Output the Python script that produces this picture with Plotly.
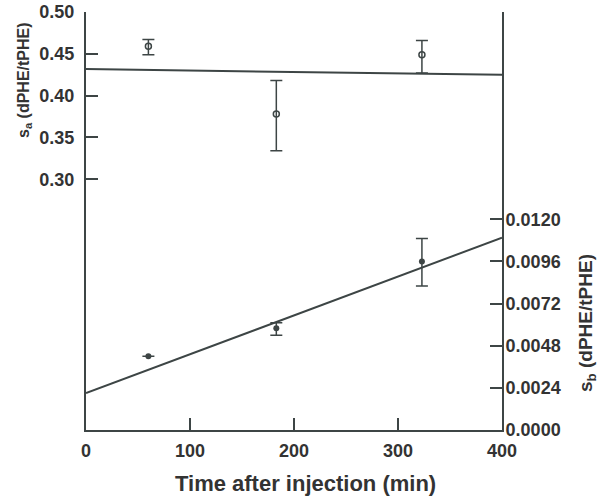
import plotly.graph_objects as go

# ---- data ----
time_min = [60, 183, 323]

sa_values = [0.459, 0.378, 0.449]
sa_err_plus = [0.008, 0.040, 0.017]
sa_err_minus = [0.010, 0.044, 0.022]

sb_values = [0.0042, 0.0058, 0.0096]
sb_err_plus = [None, 0.0003, 0.0013]   # first point shows no error bar
sb_err_minus = [None, 0.0004, 0.0014]

fit_time = [0, 400]
sa_fit = [0.4318, 0.4248]
sb_fit = [0.0021, 0.01095]

x_ticks = [0, 100, 200, 300, 400]
sa_ticks = [0.30, 0.35, 0.40, 0.45, 0.50]
sb_ticks = [0.0000, 0.0024, 0.0048, 0.0072, 0.0096, 0.0120]

INK = "#3d4545"
TXT = "#333333"
FONT = "Liberation Sans, Arial, sans-serif"

fig = go.Figure()

# s_a fit line
fig.add_trace(go.Scatter(x=fit_time, y=sa_fit, mode="lines",
                         line=dict(color=INK, width=2), showlegend=False, yaxis="y"))
# s_a points (open circles)
fig.add_trace(go.Scatter(
    x=time_min, y=sa_values, mode="markers", yaxis="y", showlegend=False,
    marker=dict(symbol="circle-open", size=6, color=INK, line=dict(width=1.5, color=INK)),
    error_y=dict(type="data", symmetric=False, array=sa_err_plus, arrayminus=sa_err_minus,
                 color=INK, thickness=1.5, width=6)))

# s_b fit line
fig.add_trace(go.Scatter(x=fit_time, y=sb_fit, mode="lines", yaxis="y2",
                         line=dict(color=INK, width=2), showlegend=False))
# s_b points (filled circles)
fig.add_trace(go.Scatter(
    x=time_min, y=sb_values, mode="markers", yaxis="y2", showlegend=False,
    marker=dict(symbol="circle", size=6, color=INK),
    error_y=dict(type="data", symmetric=False, array=sb_err_plus, arrayminus=sb_err_minus,
                 color=INK, thickness=1.5, width=6)))

tickfont = dict(family=FONT, size=18, color=TXT, weight="bold")

fig.update_layout(
    template="none",
    width=600, height=496,
    margin=dict(l=86, r=98, t=12, b=66, autoexpand=False),
    paper_bgcolor="white", plot_bgcolor="white",
    xaxis=dict(range=[0, 400], tickvals=x_ticks, ticks="inside", ticklen=12,
               tickwidth=2, tickcolor=INK, showline=True, linewidth=2, linecolor=INK,
               showgrid=False, zeroline=False, tickfont=tickfont, ticklabelstandoff=3,
               automargin=False, ticklabeloverflow="allow"),
    yaxis=dict(range=[0, 0.5], tickvals=sa_ticks, tickformat=".2f", ticks="inside",
               ticklen=12, tickwidth=2, tickcolor=INK, showline=True, linewidth=2,
               linecolor=INK, showgrid=False, zeroline=False, tickfont=tickfont,
               ticklabelstandoff=6, automargin=False, ticklabeloverflow="allow"),
    yaxis2=dict(range=[0, 0.0238], tickvals=sb_ticks, tickformat=".4f", ticks="inside",
                ticklen=12, tickwidth=2, tickcolor=INK, showline=True, linewidth=2,
                linecolor=INK, showgrid=False, zeroline=False, tickfont=tickfont,
                overlaying="y", side="right", anchor="x", ticklabelstandoff=-2,
                automargin=False, ticklabeloverflow="allow"),
    annotations=[
        dict(text="Time after injection (min)", xref="paper", yref="paper",
             x=(305 - 86) / 416, y=-(483 - 430) / 418, showarrow=False,
             xanchor="center", yanchor="middle",
             font=dict(family=FONT, size=22, color=TXT, weight="bold")),
        dict(text="s<sub>a</sub> (dPHE/tPHE)", xref="paper", yref="paper",
             x=(25 - 86) / 416, y=(430 - 80) / 418, showarrow=False, textangle=-90,
             xanchor="center", yanchor="middle",
             font=dict(family=FONT, size=16, color=TXT, weight="bold")),
        dict(text="s<sub>b</sub> (dPHE/tPHE)", xref="paper", yref="paper",
             x=(587 - 86) / 416, y=(430 - 323) / 418, showarrow=False, textangle=-90,
             xanchor="center", yanchor="middle",
             font=dict(family=FONT, size=19, color=TXT, weight="bold")),
    ],
)

# remove the browser's default 8px body margin so the figure sits at the page corner
fig.write_html("out.html", config={"displayModeBar": False},
               post_script="document.body.style.margin='0px';")
